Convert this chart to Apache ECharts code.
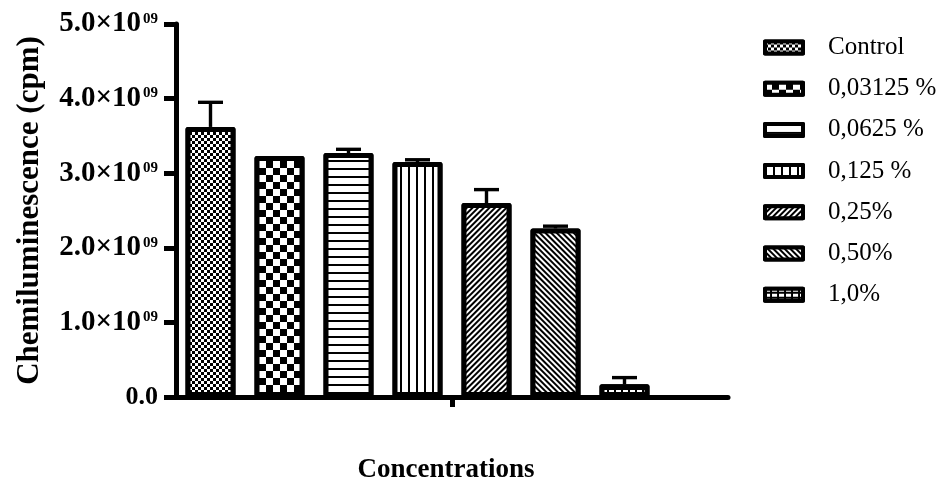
<!DOCTYPE html>
<html>
<head>
<meta charset="utf-8">
<script src="https://cdn.jsdelivr.net/npm/echarts@6/dist/echarts.min.js"></script>
<style>
  html, body { margin: 0; padding: 0; background: #fff; }
  #chart { width: 946px; height: 485px; }
</style>
</head>
<body>
<div id="chart"></div>
<script>
// Treatment groups, mean chemiluminescence (cpm) and upper error (SEM)
const groups = ['Control', '0,03125 %', '0,0625 %', '0,125 %', '0,25%', '0,50%', '1,0%'];
const means = [3.62e9, 3.23e9, 3.27e9, 3.15e9, 2.60e9, 2.26e9, 0.17e9];
const errors = [0.33e9, 0, 0.05e9, 0.03e9, 0.18e9, 0.03e9, 0.09e9];

// Y axis ticks and their labels
const yTicks = [0, 1e9, 2e9, 3e9, 4e9, 5e9];
const yTickLabels = ['0.0', '1.0×10^09', '2.0×10^09', '3.0×10^09', '4.0×10^09', '5.0×10^09'];

// One slot per group plus an empty slot at the right end of the axis
const slots = groups.concat(['']);

const FONT = '"Liberation Serif", "Times New Roman", serif';

// Hatch patterns for each group
const hatch = (o) => Object.assign({
  symbol: 'rect', symbolSize: 1, symbolKeepAspect: false,
  color: '#000', backgroundColor: '#fff', rotation: 0
}, o);
const patterns = [
  hatch({ dashArrayX: [[3, 3], [0, 3, 3, 0]], dashArrayY: [3, 0] }),
  hatch({ dashArrayX: [[7, 7], [0, 7, 7, 0]], dashArrayY: [7, 0] }),
  hatch({ dashArrayX: [8, 0], dashArrayY: [2, 6] }),
  hatch({ dashArrayX: [2, 6], dashArrayY: [8, 0] }),
  hatch({ dashArrayX: [2, 2], dashArrayY: [8, 0], rotation: Math.PI / 4 }),
  hatch({ dashArrayX: [2, 2], dashArrayY: [8, 0], rotation: -Math.PI / 4 }),
  hatch({ color: '#fff', backgroundColor: '#000', dashArrayX: [5, 2], dashArrayY: [3, 2] })
];

const barSeries = groups.map((name, i) => ({
  name: name,
  type: 'bar',
  xAxisIndex: 0,
  barWidth: 50,
  barGap: '-100%',
  data: slots.map((s, j) => (j === i ? means[i] : '-')),
  itemStyle: {
    color: '#fff',
    borderColor: '#000',
    borderWidth: 5,
    borderJoin: 'round',
    decal: patterns[i]
  },
  emphasis: { disabled: true }
}));

const errorSeries = {
  type: 'custom',
  xAxisIndex: 0,
  z: 3,
  silent: true,
  data: means.map((m, i) => [i, m, errors[i]]),
  renderItem: function (params, api) {
    const idx = api.value(0);
    const m = api.value(1);
    const e = api.value(2);
    if (!e) return null;
    const p0 = api.coord([idx, m]);
    const p1 = api.coord([idx, m + e]);
    const half = 12.5;
    const style = { stroke: '#000', lineWidth: 3.4, fill: null };
    return {
      type: 'group',
      children: [
        { type: 'line', shape: { x1: p0[0], y1: p0[1], x2: p1[0], y2: p1[1] }, style: style },
        { type: 'line', shape: { x1: p1[0] - half, y1: p1[1], x2: p1[0] + half, y2: p1[1] }, style: style }
      ]
    };
  }
};

const chart = echarts.init(document.getElementById('chart'), null, { renderer: 'canvas' });

chart.setOption({
  animation: false,
  backgroundColor: '#fff',
  grid: { left: 176, right: 218, top: 24, bottom: 88, containLabel: false, outerBoundsMode: 'none' },
  legend: {
    data: groups,
    orient: 'vertical',
    left: 758,
    top: 30,
    icon: 'rect',
    itemWidth: 38,
    itemHeight: 12,
    itemGap: 16.2,
    selectedMode: false,
    itemStyle: { borderColor: '#000', borderWidth: 4, borderJoin: 'round' },
    textStyle: {
      fontFamily: FONT, fontSize: 25, color: '#000',
      lineHeight: 25, padding: [0, 0, 0, 20]
    }
  },
  xAxis: [
    {
      type: 'category',
      data: slots,
      boundaryGap: true,
      axisLine: { show: true, lineStyle: { color: '#000', width: 5 } },
      axisTick: { show: false },
      axisLabel: { show: false },
      splitLine: { show: false }
    },
    {
      type: 'category',
      data: [''],
      position: 'bottom',
      axisLine: { show: false },
      axisTick: { show: true, alignWithLabel: true, length: 10, lineStyle: { color: '#000', width: 5 } },
      axisLabel: { show: false },
      splitLine: { show: false },
      name: 'Concentrations',
      nameLocation: 'middle',
      nameGap: 60,
      nameTextStyle: {
        fontFamily: FONT, fontSize: 27, fontWeight: 'bold', color: '#000',
        padding: [0, 12, 0, 0]
      }
    }
  ],
  yAxis: {
    type: 'value',
    min: 0,
    max: 5e9,
    interval: 1e9,
    axisLine: { show: true, lineStyle: { color: '#000', width: 5 } },
    axisTick: { show: true, length: 12, lineStyle: { color: '#000', width: 5 } },
    splitLine: { show: false },
    axisLabel: {
      margin: 18,
      formatter: function (v) {
        const lbl = yTickLabels[yTicks.indexOf(v)] || '';
        const parts = lbl.split('^');
        return parts.length > 1 ? '{m|' + parts[0] + '}{e|' + parts[1] + '}' : '{z|' + lbl + '}';
      },
      rich: {
        m: { fontFamily: FONT, fontSize: 29, fontWeight: 'bold', color: '#000', lineHeight: 29 },
        e: { fontFamily: FONT, fontSize: 15, fontWeight: 'bold', color: '#000', lineHeight: 15,
             verticalAlign: 'top', padding: [2, 0, 0, 2] },
        z: { fontFamily: FONT, fontSize: 26, fontWeight: 'bold', color: '#000', lineHeight: 26 }
      }
    },
    name: 'Chemiluminescence (cpm)',
    nameLocation: 'middle',
    nameRotate: 90,
    nameGap: 131,
    nameTextStyle: { fontFamily: FONT, fontSize: 31, fontWeight: 'bold', color: '#000' }
  },
  series: barSeries.concat([errorSeries])
});
</script>
</body>
</html>
